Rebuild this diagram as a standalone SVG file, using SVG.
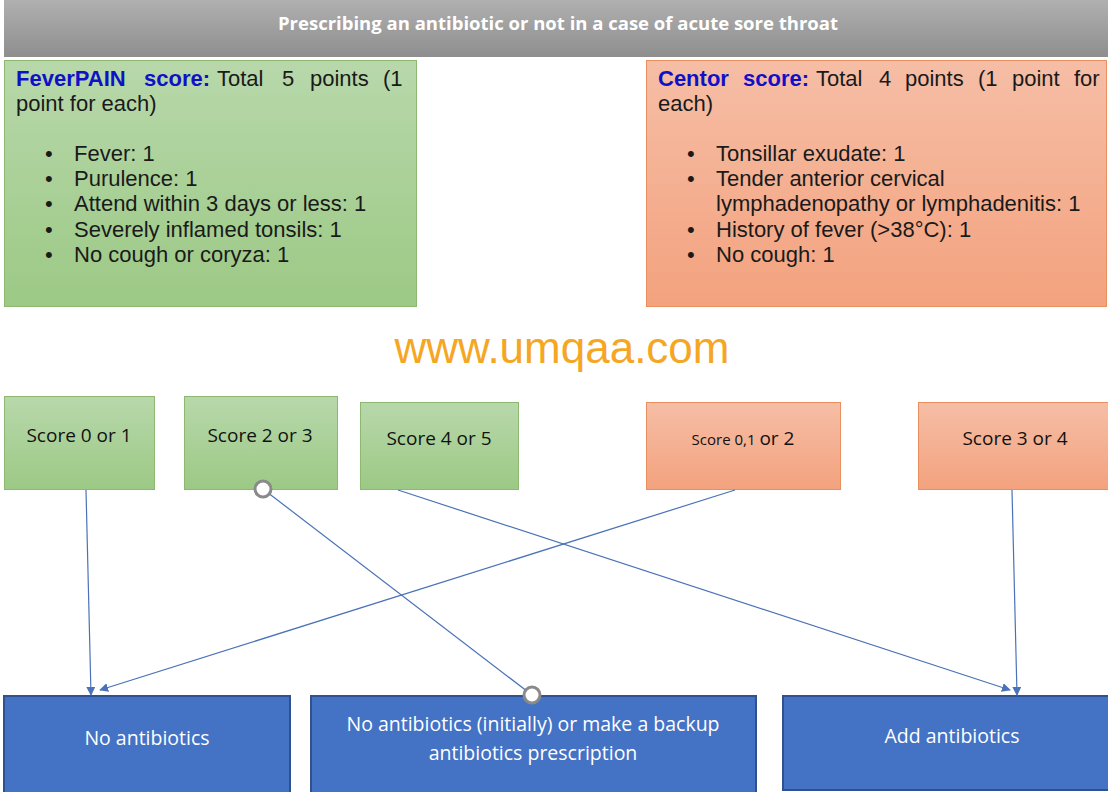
<svg xmlns="http://www.w3.org/2000/svg" width="1108" height="792" viewBox="0 0 1108 792">
<defs>
<linearGradient id="gGray" x1="0" y1="0" x2="0" y2="1"><stop offset="0" stop-color="#b0b0b0"/><stop offset="1" stop-color="#8e8e8e"/></linearGradient>
<linearGradient id="gGreen" x1="0" y1="0" x2="0" y2="1"><stop offset="0" stop-color="#b8d8ab"/><stop offset="1" stop-color="#9cc985"/></linearGradient>
<linearGradient id="gOrange" x1="0" y1="0" x2="0" y2="1"><stop offset="0" stop-color="#f6bea6"/><stop offset="1" stop-color="#f3a27e"/></linearGradient>
<marker id="arr" viewBox="0 0 10 10" refX="9" refY="5" markerWidth="9" markerHeight="9" markerUnits="userSpaceOnUse" orient="auto"><path d="M0,0 L10,5 L0,10 z" fill="#4a72b8"/></marker>
</defs>
<style>
.green{fill:url(#gGreen);stroke:#8cb870;stroke-width:1}
.orange{fill:url(#gOrange);stroke:#e98e5e;stroke-width:1}
.blue{fill:#4472c4;stroke:#2f528f;stroke-width:2}
.body{font-family:"Liberation Sans",Arial,sans-serif;font-size:22px;fill:#1a1a1a}
.head{font-weight:bold;fill:#1010c8}
.sc{font-family:"Open Sans","Liberation Sans",sans-serif;font-size:19px;fill:#111;text-anchor:middle}
.wt{font-family:"Open Sans","Liberation Sans",sans-serif;font-size:19.5px;fill:#fff;text-anchor:middle}
.conn{stroke:#4a72b8;stroke-width:1.2;fill:none}
.ring{fill:#fff;stroke:#8a8a8a;stroke-width:3}
</style>
<rect width="1108" height="792" fill="#fff"/>
<g id="title">
<rect x="4" y="0" width="1104" height="57" fill="url(#gGray)"/>
<text x="558" y="30" font-family="'Open Sans','Liberation Sans',sans-serif" font-size="17" font-weight="bold" fill="#fff" text-anchor="middle" textLength="560" lengthAdjust="spacingAndGlyphs">Prescribing an antibiotic or not in a case of acute sore throat</text>
</g>
<g id="feverpain">
<rect class="green" x="4.5" y="60.5" width="412" height="246"/>
<text class="body"><tspan class="head" x="16" y="86">FeverPAIN</tspan><tspan class="head" x="144" y="86">score:</tspan><tspan x="217" y="86">Total</tspan><tspan x="282" y="86">5</tspan><tspan x="310" y="86">points</tspan><tspan x="383" y="86">(1</tspan><tspan x="16" y="111">point for each)</tspan></text>
<g class="body">
<text x="45" y="161">•</text><text x="74" y="161">Fever: 1</text>
<text x="45" y="186">•</text><text x="74" y="186">Purulence: 1</text>
<text x="45" y="211">•</text><text x="74" y="211">Attend within 3 days or less: 1</text>
<text x="45" y="237">•</text><text x="74" y="237">Severely inflamed tonsils: 1</text>
<text x="45" y="262">•</text><text x="74" y="262">No cough or coryza: 1</text>
</g>
</g>
<g id="centor">
<rect class="orange" x="646.5" y="60.5" width="460" height="246"/>
<text class="body"><tspan class="head" x="658" y="86">Centor</tspan><tspan class="head" x="743" y="86">score:</tspan><tspan x="816" y="86">Total</tspan><tspan x="879" y="86">4</tspan><tspan x="905" y="86">points</tspan><tspan x="978" y="86">(1</tspan><tspan x="1012" y="86">point</tspan><tspan x="1074" y="86">for</tspan><tspan x="658" y="111">each)</tspan></text>
<g class="body">
<text x="687" y="161">•</text><text x="716" y="161">Tonsillar exudate: 1</text>
<text x="687" y="186">•</text><text x="716" y="186">Tender anterior cervical</text>
<text x="716" y="211">lymphadenopathy or lymphadenitis: 1</text>
<text x="687" y="237">•</text><text x="716" y="237">History of fever (&gt;38°C): 1</text>
<text x="687" y="262">•</text><text x="716" y="262">No cough: 1</text>
</g>
</g>
<text x="562" y="363" font-family="'Liberation Sans',Arial,sans-serif" font-size="44" fill="#f5a623" text-anchor="middle">www.umqaa.com</text>
<g id="s01"><rect class="green" x="4.5" y="396.5" width="150" height="93"/><text class="sc" x="79" y="442">Score 0 or 1</text></g>
<g id="s23"><rect class="green" x="184.5" y="396.5" width="153" height="93"/><text class="sc" x="260" y="442">Score 2 or 3</text></g>
<g id="s45"><rect class="green" x="360.5" y="402.5" width="158" height="87"/><text class="sc" x="439" y="445">Score 4 or 5</text></g>
<g id="c012"><rect class="orange" x="646.5" y="402.5" width="194" height="87"/><text class="sc" x="743" y="445"><tspan font-size="15">Score 0,1 </tspan>or 2</text></g>
<g id="c34"><rect class="orange" x="918.5" y="402.5" width="190" height="87"/><text class="sc" x="1015" y="445">Score 3 or 4</text></g>
<g id="none"><rect class="blue" x="4" y="696" width="286" height="98"/><text class="wt" x="147" y="745">No antibiotics</text></g>
<g id="backup"><rect class="blue" x="311" y="696" width="445" height="98"/><text class="wt" x="533" y="731">No antibiotics (initially) or make a backup</text><text class="wt" x="533" y="760">antibiotics prescription</text></g>
<g id="add"><rect class="blue" x="783" y="696" width="327" height="94"/><text class="wt" x="952" y="743">Add antibiotics</text></g>
<g id="connectors">
<line class="conn" x1="86" y1="490" x2="91" y2="695" marker-end="url(#arr)"/>
<line class="conn" x1="735" y1="490" x2="100" y2="690" marker-end="url(#arr)"/>
<line class="conn" x1="398" y1="490" x2="1010" y2="690" marker-end="url(#arr)"/>
<line class="conn" x1="1012" y1="490" x2="1017" y2="695" marker-end="url(#arr)"/>
<line class="conn" x1="263" y1="489" x2="532" y2="695"/>
<circle class="ring" cx="263" cy="489" r="8"/>
<circle class="ring" cx="532" cy="695" r="8"/>
</g>
</svg>
